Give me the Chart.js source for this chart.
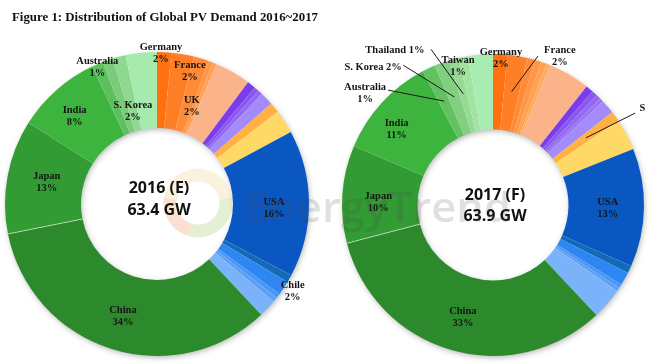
<!DOCTYPE html>
<html><head><meta charset="utf-8">
<script src="https://cdn.jsdelivr.net/npm/chart.js@4.4.0/dist/chart.umd.min.js"></script>
<style>
html,body{margin:0;padding:0;background:#fff;}
#wrap{position:relative;width:650px;height:363px;overflow:hidden;background:#fff;}
#c1{position:absolute;left:0;top:0;}
#c2{position:absolute;left:325px;top:0;}
#wm{position:absolute;left:0;top:0;pointer-events:none;}
</style></head><body>
<div id="wrap">
<canvas id="c1" width="325" height="363"></canvas>
<canvas id="c2" width="325" height="363"></canvas>
<canvas id="wm" width="650" height="363"></canvas>
</div>
<script>
// ---------------- DATA ----------------
const titleText = 'Figure 1: Distribution of Global PV Demand 2016~2017';
const years = ['2016 (E)', '2017 (F)'];
const totalGW = [63.4, 63.9];

// 2016 slices, clockwise from 12 o'clock (share of demand, %)
const categories2016 = ['Germany','France','UK','Europe other 1','Europe other 2','Europe other 3',
  'Other 1','Other 2','Other 3','Other 4','Other 5','Other 6',
  'USA','Americas other 1','Chile','Americas other 2','Americas other 3','Americas other 4',
  'China','Japan','India','Australia','Asia other 1','S. Korea','Asia other 2'];
const share2016 = [1.5,2.4,1.6,0.5,0.4,3.8,
  0.9,0.5,0.5,1.4,1.1,2.5,
  15.6,0.8,1.5,0.5,0.5,1.9,
  33.8,12.1,9.0,1.2,1.1,1.4,3.3];
const labelNames2016 = ['Germany','France','UK','Australia','S. Korea','India','Japan','China','USA','Chile'];
const labelPcts2016  = [2,2,2,1,2,8,13,34,16,2];

// 2017 slices, clockwise from 12 o'clock (share of demand, %)
const categories2017 = ['Germany','France','Europe other 1','Europe other 2','Europe other 3','Europe other 4','Europe other 5',
  'Other 1','Other 2','Other 3','Other 4','Other 5','S','Other 6',
  'USA','Americas other 1','Americas other 2','Americas other 3','Americas other 4','Americas other 5',
  'China','Japan','India','Australia','S. Korea','Thailand','Taiwan','Asia other'];
const share2017 = [1.5,2.1,0.8,0.7,0.6,0.4,4.4,
  0.8,0.6,0.5,0.4,1.5,1.1,3.3,
  12.5,0.8,1.4,0.4,0.4,3.3,
  32.5,10.3,10.8,1.4,1.6,1.0,1.0,2.6];
const labelNames2017 = ['Germany','France','S','USA','China','Japan','India','Australia','S. Korea','Thailand','Taiwan'];
const labelPcts2017  = [2,2,null,13,33,10,11,1,2,1,1];

// ---------------- STYLE ----------------
const colors2016 = ['#FF700F','#FF7F27','#FF8B38','#FF9746','#FFA153','#FBB38A',
  '#7B3DEB','#8A58EF','#9368F2','#A38BFB','#FFB142','#FFD865',
  '#0A57C2','#136BB7','#2E86F2','#4A95F5','#5C9FF7','#7AB3FA',
  '#2C8A2C','#339B33','#3DB43D','#5EBF5E','#7ACB7A','#8FD88F','#A6EAAE'];
const colors2017 = ['#FF700F','#FF7F27','#FF8B38','#FF9746','#FFA153','#FFAB5C','#FBB38A',
  '#7B3DEB','#8A58EF','#9368F2','#9A74F4','#A38BFB','#FFB142','#FFD865',
  '#0A57C2','#136BB7','#2E86F2','#4A95F5','#5C9FF7','#7AB3FA',
  '#2C8A2C','#339B33','#3DB43D','#62C262','#82CF82','#95DA95','#A0E4A0','#A9ECB2'];

// label placement (angle clockwise from top in degrees, radius as fraction of outer radius)
const layout2016 = {
  'Germany':{ang:1.5,rf:0.99}, 'France':{ang:13.9,rf:0.90}, 'UK':{ang:19.7,rf:0.68},
  'Australia':{ang:336.4,rf:0.98}, 'S. Korea':{ang:345.4,rf:0.63}, 'India':{ang:316.7,rf:0.79},
  'Japan':{ang:281.3,rf:0.74}, 'China':{ang:196.9,rf:0.77}, 'USA':{ang:92,rf:0.77}, 'Chile':{ang:122.6,rf:1.06}
};
const layout2017 = {
  'Germany':{ang:3.1,rf:0.97}, 'Taiwan':{ang:345.9,rf:0.95}, 'India':{ang:308,rf:0.81},
  'Japan':{ang:271.5,rf:0.76}, 'China':{ang:195,rf:0.77}, 'USA':{ang:91.5,rf:0.76},
  'France':{ang:24.2,rf:1.08, line:{ang:16.8,rf:1.03}},
  'Thailand':{ang:327.7,rf:1.215, inline:true, line:{ang:338.3,rf:1.11}},
  'S. Korea':{ang:319,rf:1.21, inline:true, line:{ang:327.3,rf:1.10}},
  'Australia':{ang:311.2,rf:1.126, line:{ang:317.6,rf:1.03}},
  'S':{ang:57,rf:1.18, line:{ang:57.1,rf:1.12}}
};

// ---------------- PLUGINS ----------------
function polar(cx, cy, R, angDeg, rf){
  const a = angDeg*Math.PI/180;
  return [cx + R*rf*Math.sin(a), cy - R*rf*Math.cos(a)];
}

const shadowPlugin = {
  id:'ringShadow',
  beforeDatasetsDraw(chart){
    const arc = chart.getDatasetMeta(0).data[0];
    if(!arc) return;
    const ctx = chart.ctx;
    ctx.save();
    ctx.beginPath();
    ctx.arc(arc.x, arc.y, arc.outerRadius-1, 0, Math.PI*2);
    ctx.arc(arc.x, arc.y, arc.innerRadius+1, 0, Math.PI*2, true);
    ctx.shadowColor = 'rgba(0,0,0,0.35)';
    ctx.shadowBlur = 6;
    ctx.shadowOffsetX = 1;
    ctx.shadowOffsetY = 2;
    ctx.fillStyle = '#ffffff';
    ctx.fill();
    ctx.restore();
  }
};

const labelPlugin = {
  id:'sliceLabels',
  afterDatasetsDraw(chart, args, opts){
    const ctx = chart.ctx;
    const meta = chart.getDatasetMeta(0);
    const arc0 = meta.data[0];
    const cx = arc0.x, cy = arc0.y, R = arc0.outerRadius;
    const cats = chart.data.labels;

    // separator between China and Japan (thin light line as in the original)
    const iJ = cats.indexOf('Japan');
    if (iJ >= 0) {
      const a = meta.data[iJ];
      ctx.save();
      ctx.strokeStyle = 'rgba(255,255,255,0.55)';
      ctx.lineWidth = 1;
      ctx.beginPath();
      ctx.moveTo(cx + a.innerRadius*Math.cos(a.startAngle), cy + a.innerRadius*Math.sin(a.startAngle));
      ctx.lineTo(cx + a.outerRadius*Math.cos(a.startAngle), cy + a.outerRadius*Math.sin(a.startAngle));
      ctx.stroke();
      ctx.restore();
    }

    // logo (watermark) inside the left hole
    if (opts.logo) {
      const lx = cx + 41, ly = cy - 1, lr = 28;
      ctx.save();
      ctx.lineWidth = 13;
      ctx.strokeStyle = 'rgba(238,214,150,0.32)';
      ctx.beginPath(); ctx.arc(lx, ly, lr, Math.PI*1.05, Math.PI*1.95); ctx.stroke();
      ctx.strokeStyle = 'rgba(238,160,110,0.32)';
      ctx.beginPath(); ctx.arc(lx, ly, lr, Math.PI*0.6, Math.PI*1.05); ctx.stroke();
      ctx.strokeStyle = 'rgba(175,205,120,0.32)';
      ctx.beginPath(); ctx.arc(lx, ly, lr, Math.PI*-0.05, Math.PI*0.6); ctx.stroke();
      ctx.restore();
    }

    // title
    if (opts.title) {
      ctx.save();
      ctx.font = 'bold 13.5px "Liberation Serif"';
      ctx.fillStyle = '#111';
      ctx.textAlign = 'left';
      ctx.textBaseline = 'alphabetic';
      const w = ctx.measureText(opts.title).width;
      const sx = 306 / w;
      ctx.translate(12, 21);
      ctx.scale(sx, 1);
      ctx.fillText(opts.title, 0, 0);
      ctx.restore();
    }

    // slice labels
    ctx.save();
    ctx.font = 'bold 10.5px "Liberation Serif"';
    ctx.fillStyle = '#151515';
    ctx.strokeStyle = '#1a1a1a';
    ctx.lineWidth = 1;
    ctx.textBaseline = 'middle';
    opts.names.forEach((name, k) => {
      const L = opts.layout[name];
      if (!L) return;
      const pct = opts.pcts[k];
      const [tx, ty] = polar(cx, cy, R, L.ang, L.rf);
      if (L.line) {
        const idx = cats.indexOf(name);
        const a = meta.data[idx];
        const mid = (a.startAngle + a.endAngle)/2;
        const ex = cx + R*0.76*Math.cos(mid), ey = cy + R*0.76*Math.sin(mid);
        const [sx0, sy0] = polar(cx, cy, R, L.line.ang, L.line.rf);
        ctx.beginPath(); ctx.moveTo(sx0, sy0); ctx.lineTo(ex, ey); ctx.stroke();
      }
      ctx.textAlign = 'center';
      if (pct === null) {
        ctx.fillText(name, tx, ty);
      } else if (L.inline) {
        ctx.fillText(name + ' ' + pct + '%', tx, ty);
      } else {
        ctx.fillText(name, tx, ty - 6);
        ctx.fillText(pct + '%', tx, ty + 6);
      }
    });
    ctx.restore();

    // centre text
    ctx.save();
    ctx.font = 'bold 16px "Open Sans"';
    ctx.fillStyle = '#111';
    ctx.textAlign = 'center';
    ctx.textBaseline = 'middle';
    ctx.fillText(opts.center[0], cx + 2, cy + opts.centerDy[0]);
    ctx.fillText(opts.center[1], cx + 2, cy + opts.centerDy[1]);
    ctx.restore();
  }
};

function makeChart(id, cats, vals, cols, padding, labelOpts){
  return new Chart(document.getElementById(id), {
    type:'doughnut',
    data:{ labels:cats, datasets:[{ data:vals, backgroundColor:cols, borderWidth:0 }]},
    options:{
      responsive:false, animation:false, cutout:'50%', rotation:0,
      layout:{ padding },
      plugins:{ legend:{display:false}, tooltip:{enabled:false}, title:{display:false}, sliceLabels: labelOpts }
    },
    plugins:[shadowPlugin, labelPlugin]
  });
}

makeChart('c1', categories2016, share2016, colors2016, {left:5,right:16,top:52,bottom:7}, {
  names:labelNames2016, pcts:labelPcts2016, layout:layout2016,
  center:[years[0], totalGW[0].toFixed(1)+' GW'], centerDy:[-16,6], title:titleText, logo:true
});
makeChart('c2', categories2017, share2017, colors2017, {left:17,right:6,top:54,bottom:7}, {
  names:labelNames2017, pcts:labelPcts2017, layout:layout2017,
  center:[years[1], totalGW[1].toFixed(1)+' GW'], centerDy:[-10,11], title:null, logo:false
});

// watermark text
(function(){
  const c = document.getElementById('wm');
  const ctx = c.getContext('2d');
  const txt = 'EnergyTrend';
  ctx.font = '600 42px "Open Sans"';
  const w = ctx.measureText(txt).width;
  ctx.save();
  ctx.translate(245, 222);
  ctx.scale(266/w, 1);
  ctx.fillStyle = 'rgba(70,70,70,0.17)';
  ctx.fillText(txt, 0, 0);
  ctx.restore();
})();
</script>
</body></html>
